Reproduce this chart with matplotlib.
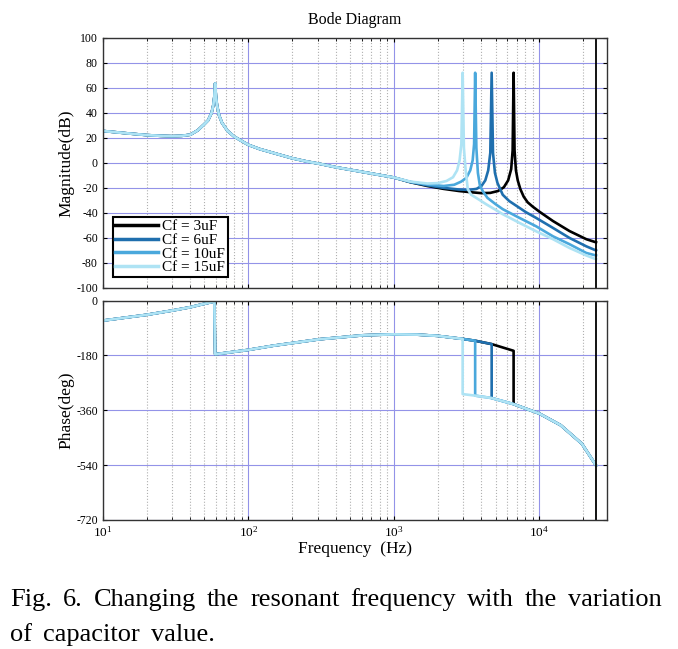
import matplotlib
matplotlib.use('Agg')
import matplotlib.pyplot as plt
import matplotlib.ticker as ticker
import numpy as np

plt.rcParams['font.family'] = ['Liberation Serif', 'DejaVu Serif']
plt.rcParams['mathtext.fontset'] = 'custom'
plt.rcParams['mathtext.rm'] = 'Liberation Serif'
plt.rcParams['mathtext.it'] = 'Liberation Serif:italic'
plt.rcParams['axes.unicode_minus'] = False

# ---- data (frequency in Hz, magnitude in dB, phase in deg) ----
labels = ['Cf = 3uF', 'Cf = 6uF', 'Cf = 10uF', 'Cf = 15uF']
colors = ['#000000', '#1f6fae', '#4aa8dc', '#aee3f4']

# part shared by all four curves
f_common = [10, 15, 20, 25, 30, 35, 40, 45, 50, 53, 56, 57.5, 58.5, 59.2, 60, 61, 63, 66,
            72, 80, 90, 100, 120, 150, 200, 250, 310, 400, 500, 700, 1000]
mag_common = [25.5, 23.5, 22.2, 21.6, 21.3, 21.6, 22.5, 26, 31, 34, 40, 46, 53, 63.5, 53, 46,
              38, 32, 25.6, 21, 17.5, 14.4, 11, 7.8, 3.7, 1.2, -0.8, -3.5, -5.5, -8.5, -11.7]

# high-frequency part of each curve
f_3uF = [1300, 1700, 2200, 2800, 3400, 4000, 4600, 5200, 5700, 6100, 6400, 6550, 6650, 6750,
         6900, 7100, 7400, 7800, 8300, 9000, 10000, 12400, 16100, 21000, 24500]
mag_3uF = [-15.5, -18.5, -20.8, -22.5, -23.5, -24.2, -24, -22.5, -19.5, -14, -5, 10, 72, 10,
           -6, -14, -21, -27, -31.5, -35, -39, -46.5, -54.5, -61, -63.5]

f_6uF = [1300, 1700, 2200, 2800, 3300, 3700, 4000, 4250, 4450, 4600, 4700, 4800, 4950, 5150,
         5600, 6200, 7300, 8100, 9500, 12400, 16100, 21000, 24500]
mag_6uF = [-15.4, -18, -20, -21.3, -21.6, -20.8, -18.5, -14, -6, 8, 72, 8, -8, -16,
           -25.5, -30.5, -36, -39.5, -44, -52, -60, -66.7, -70]

f_10uF = [1300, 1700, 2200, 2600, 2900, 3150, 3350, 3480, 3560, 3620, 3690, 3780, 3900, 4100,
          4400, 5000, 5600, 7300, 9500, 12400, 16100, 21000, 24500]
mag_10uF = [-15.2, -17.3, -18.5, -17.5, -15, -12, -6, 2, 15, 72, 12, -8, -18, -23,
            -28, -33, -37, -44, -50.7, -58.7, -65, -72, -74]

f_15uF = [1300, 1700, 2000, 2300, 2550, 2720, 2830, 2910, 2970, 3030, 3110, 3220, 3400, 3800,
          4300, 5000, 5600, 7300, 9500, 12400, 16100, 21000, 24500]
mag_15uF = [-15, -16.5, -16.2, -14.5, -11.5, -6, 2, 15, 72, 12, -5, -21, -25.5, -29,
            -33, -37.5, -41, -48, -54.7, -61, -68, -74, -77]

f_tails = [f_3uF, f_6uF, f_10uF, f_15uF]
mag_tails = [mag_3uF, mag_6uF, mag_10uF, mag_15uF]

# phase: shared low part, upper branch before each resonance, lower branch after it
f_res = [6650, 4700, 3620, 2970]
f_ph_common = [10, 20, 30, 40, 48.7, 57, 58.5, 59.2, 61, 100, 150, 310, 620, 1000, 1450, 2000]
ph_common = [-66, -47, -33, -22, -12, -4.4, -2, -176, -175.6, -162, -148, -127, -114, -111, -112, -116]
f_ph_upper = [2970, 3620, 4700, 6650]
ph_upper = [-126, -132, -143, -165]
f_ph_lower = [2970, 3620, 4700, 6650, 10000, 14000, 19600, 24500]
ph_lower = [-307, -312, -320, -340, -371, -409, -470, -541]

f_end = 24500

W, H = 678, 649
fig = plt.figure(figsize=(W / 100, H / 100), dpi=100)
ax1 = fig.add_axes([102.7 / W, 1 - 288 / H, 504 / W, 250.3 / H])
ax2 = fig.add_axes([102.7 / W, 1 - 520 / H, 504 / W, 219.5 / H])

for i in range(4):
    f = f_common + f_tails[i]
    m = mag_common + mag_tails[i]
    ax1.plot(f, m, color=colors[i], lw=1.9, label=labels[i], solid_joinstyle='round')

    fu = [x for x in f_ph_upper if x <= f_res[i]]
    pu = [p for x, p in zip(f_ph_upper, ph_upper) if x <= f_res[i]]
    fl = [x for x in f_ph_lower if x >= f_res[i]]
    pl = [p for x, p in zip(f_ph_lower, ph_lower) if x >= f_res[i]]
    ax2.plot(f_ph_common + fu + fl, ph_common + pu + pl, color=colors[i], lw=1.9)

for ax in (ax1, ax2):
    ax.set_xscale('log')
    ax.set_xlim(10, 29000)
    ax.axvline(f_end, color='black', lw=1.3)
    ax.grid(which='major', color='#9393e8', ls='-', lw=0.8)
    ax.grid(which='minor', axis='x', color='#b0b0b0', ls=':', lw=0.8)
    ax.set_axisbelow(True)
    ax.tick_params(which='both', direction='in', top=True, right=True, labelsize=8.5)
    ax.tick_params(which='major', length=3)
    ax.tick_params(which='minor', length=2)
    for s in ax.spines.values():
        s.set_color('#333333')
        s.set_linewidth(1.0)

ax1.set_ylim(-100, 100)
ax1.set_yticks(np.arange(-100, 101, 20))
ax1.tick_params(labelbottom=False)
ax1.set_ylabel('Magnitude(dB)', fontsize=12.5)
ax1.yaxis.set_label_coords(-0.056, 0.5)
ax1.set_title('Bode Diagram', fontsize=11.5, pad=10)

ax2.set_ylim(-720, 0)
ax2.set_yticks(np.arange(-720, 1, 180))
ax2.xaxis.set_major_formatter(ticker.LogFormatterMathtext())
ax2.tick_params(axis='x', labelsize=9.5)
ax2.set_ylabel('Phase(deg)', fontsize=12.5)
ax2.yaxis.set_label_coords(-0.056, 0.5)
ax2.set_xlabel('Frequency  (Hz)', fontsize=12.5, labelpad=1)

leg = ax1.legend(loc='lower left', bbox_to_anchor=(0.02, 0.045), fontsize=11,
                 frameon=True, fancybox=False, edgecolor='black', framealpha=1,
                 handlelength=2.8, handletextpad=0.3, labelspacing=0.0, borderpad=0.15,
                 borderaxespad=0.0)
leg.get_frame().set_linewidth(1.5)
for ln in leg.get_lines():
    ln.set_linewidth(2.5)

# caption, justified to the figure width like the reference
def place_line(words, y, x0, x1=None, size=19, gap=None):
    texts = [fig.text(0, 1 - y / H, w, fontsize=size, va='baseline', ha='left') for w in words]
    r = fig.canvas.get_renderer()
    widths = [t.get_window_extent(r).width for t in texts]
    if gap is None:
        gap = (x1 - x0 - sum(widths)) / (len(words) - 1)
    x = x0
    for t, w in zip(texts, widths):
        t.set_x(x / W)
        x += w + gap
    return gap

g = place_line('Fig. 6. Changing the resonant frequency with the variation'.split(),
               606, 10, 662)
place_line('of capacitor value.'.split(), 641, 10, gap=g)

fig.savefig('out.png', dpi=100)
